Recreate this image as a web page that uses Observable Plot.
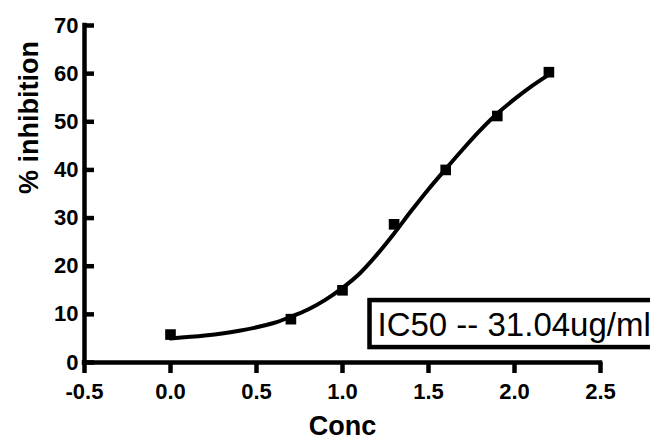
<!DOCTYPE html>
<html>
<head>
<meta charset="utf-8">
<script src="https://cdn.jsdelivr.net/npm/d3@7"></script>
<script src="https://cdn.jsdelivr.net/npm/@observablehq/plot@0.6"></script>
<style>
  html, body { margin: 0; padding: 0; background: #fff; overflow: hidden; }
  svg { display: block; }
</style>
</head>
<body>
<div id="chart"></div>
<script>
// Measured points
const conc = [0.0, 0.7, 1.0, 1.3, 1.6, 1.9, 2.2];
const inhibition = [5.8, 9.0, 15.0, 28.7, 40.0, 51.2, 60.3];

// Fitted curve
const curveX = [0.0, 0.2, 0.4, 0.6, 0.7, 0.8, 0.9, 1.0, 1.1, 1.2, 1.3, 1.4, 1.5, 1.6, 1.7, 1.8, 1.9, 2.0, 2.1, 2.2];
const curveY = [5.0, 5.6, 6.6, 8.2, 9.5, 11.0, 13.0, 15.5, 18.5, 22.4, 26.8, 31.5, 36.0, 40.2, 44.3, 48.2, 51.7, 54.7, 57.4, 59.8];

const xTicks = [-0.5, 0.0, 0.5, 1.0, 1.5, 2.0, 2.5];
const yTicks = [0, 10, 20, 30, 40, 50, 60, 70];

const xTitle = "Conc";
const yTitle = "% inhibition";
const note = "IC50 -- 31.04ug/ml";

const points = conc.map((x, i) => ({x, y: inhibition[i]}));
const curve = curveX.map((x, i) => ({x, y: curveY[i]}));

const font = "'Liberation Sans', Arial, Helvetica, sans-serif";

const chart = Plot.plot({
  width: 650,
  height: 439,
  marginLeft: 84,
  marginRight: 50,
  marginTop: 25,
  marginBottom: 77,
  style: {fontFamily: font, background: "#fff", color: "#000", overflow: "hidden"},
  x: {domain: [-0.5, 2.5]},
  y: {domain: [0, 70]},
  marks: [
    // y ticks pointing inward
    Plot.axisY(yTicks, {tickSize: 10, dx: 10, strokeWidth: 4.5, tickFormat: () => "", label: null}),
    // y tick labels
    Plot.axisY(yTicks, {tickSize: 0, tickPadding: 6, fontSize: 22, fontWeight: "bold", tickFormat: d => String(d), label: null}),
    // x ticks and labels
    Plot.axisX(xTicks, {tickSize: 11, tickPadding: 10, strokeWidth: 4.5, fontSize: 22, fontWeight: "bold", tickFormat: d => d.toFixed(1), label: null}),
    Plot.ruleX([-0.5], {strokeWidth: 4.5, strokeLinecap: "square"}),
    Plot.ruleY([0], {strokeWidth: 4.5, strokeLinecap: "square"}),
    Plot.line(curve, {x: "x", y: "y", curve: "catmull-rom", strokeWidth: 4, stroke: "#000"}),
    Plot.dot(points, {x: "x", y: "y", symbol: "square", r: 6, fill: "#000", stroke: "none"}),
    Plot.text([xTitle], {frameAnchor: "bottom", dy: 72, lineAnchor: "bottom", fontSize: 27, fontWeight: "bold", fill: "#000"}),
    Plot.text([yTitle], {frameAnchor: "left", dx: -47, rotate: -90, lineAnchor: "bottom", fontSize: 27, fontWeight: "bold", fill: "#000"}),
    Plot.text([note], {frameAnchor: "bottom-left", dx: 293, dy: -37, textAnchor: "start", lineAnchor: "middle", fontSize: 33, fontWeight: "normal", fill: "#000"})
  ]
});

document.getElementById("chart").appendChild(chart);

// Box around the IC50 note (its right side runs past the edge, as in the original)
const svg = d3.select(chart);
const noteText = svg.selectAll("text").filter(function() { return this.textContent === note; });
if (!noteText.empty()) {
  const node = noteText.node();
  const bb = node.getBBox();
  const g = node.parentNode;
  const rect = document.createElementNS("http://www.w3.org/2000/svg", "rect");
  rect.setAttribute("x", bb.x - 8);
  rect.setAttribute("y", bb.y - 6);
  rect.setAttribute("width", bb.width + 200);
  rect.setAttribute("height", bb.height + 10);
  rect.setAttribute("fill", "#fff");
  rect.setAttribute("stroke", "#000");
  rect.setAttribute("stroke-width", 4.5);
  const ttr = node.getAttribute("transform");
  if (ttr) rect.setAttribute("transform", ttr);
  g.insertBefore(rect, g.firstChild);
}
</script>
</body>
</html>
